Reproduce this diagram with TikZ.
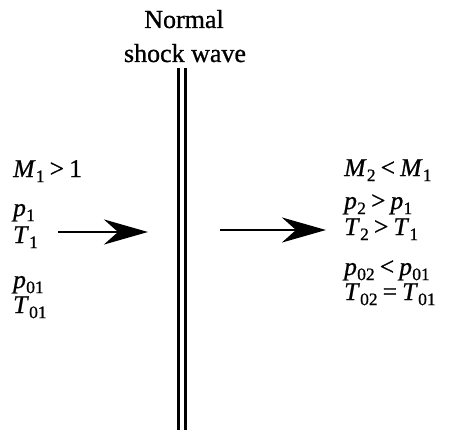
\documentclass[tikz,border=0pt]{standalone}
\usepackage{fontspec}
\setmainfont{Liberation Serif}[FakeBold=0.8]
\usetikzlibrary{arrows.meta}
\newcommand{\Vs}[2]{\textit{#1}\kern0.01em\raisebox{-0.2em}{\fontsize{17.5pt}{17.5pt}\selectfont #2}}
\newcommand{\rel}[1]{\kern0.2em#1\kern0.2em}
\begin{document}
\begin{tikzpicture}[x=1pt,y=-1pt,
  lbl/.style={anchor=base west,inner sep=0pt,font=\fontsize{25.5pt}{27pt}\selectfont},
  ttl/.style={anchor=base,inner sep=0pt,font=\fontsize{26pt}{27pt}\selectfont},
  shock/.style={line width=2.7pt},
  flow/.style={line width=2.8pt,-{Stealth[length=44pt,width=25pt,inset=14pt]}}]
\useasboundingbox (0,0) rectangle (452,433);
% title
\node[ttl] (t1) at (184,28) {Normal};
\node[ttl] (t2) at (185,62) {shock wave};
% shock wave
\coordinate (sTop) at (182,68);
\coordinate (sBot) at (182,430);
\draw[shock] ([xshift=-3.5pt]sTop) -- ([xshift=-3.5pt]sBot);
\draw[shock] ([xshift=3.5pt]sTop) -- ([xshift=3.5pt]sBot);
% left
\node[lbl] (l1) at (13,177) {\Vs{M}{1}\rel{>}1};
\node[lbl] (l2) at (13,216) {\Vs{p}{1}};
\node[lbl] (l3) at (13,243) {\Vs{T}{1}};
\node[lbl] (l4) at (13,288) {\Vs{p}{01}};
\node[lbl] (l5) at (13,313) {\Vs{T}{01}};
% right
\node[lbl] (r1) at (344,176) {\Vs{M}{2}\rel{<}\Vs{M}{1}};
\node[lbl] (r2) at (344,209) {\Vs{p}{2}\rel{>}\Vs{p}{1}};
\node[lbl] (r3) at (344,235) {\Vs{T}{2}\rel{>}\Vs{T}{1}};
\node[lbl] (r4) at (344,275) {\Vs{p}{02}\rel{<}\Vs{p}{01}};
\node[lbl] (r5) at (344,300) {\Vs{T}{02}\rel{=}\Vs{T}{01}};
% arrows
\coordinate (a1s) at (58,232);
\coordinate (a1e) at (148,232);
\coordinate (a2s) at (220,230);
\coordinate (a2e) at (326,230);
\draw[flow] (a1s) -- (a1e);
\draw[flow] (a2s) -- (a2e);
\end{tikzpicture}
\end{document}
